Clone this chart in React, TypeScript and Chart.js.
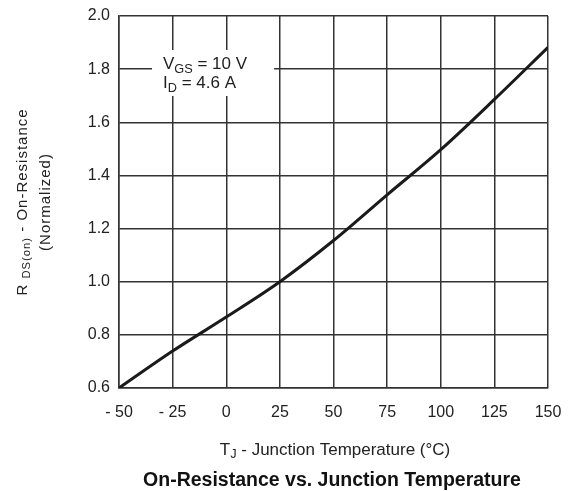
import React, { useEffect, useRef } from "react";
import { Chart, registerables } from "chart.js";

Chart.register(...registerables);

// ---- data ----
const temperatures = [-50, -25, 0, 25, 50, 75, 100, 125, 150];
const rdsOnNormalized = [0.6, 0.739, 0.867, 1.0, 1.155, 1.327, 1.497, 1.686, 1.882];
const xTickValues = [-50, -25, 0, 25, 50, 75, 100, 125, 150];
const yTickValues = [0.6, 0.8, 1.0, 1.2, 1.4, 1.6, 1.8, 2.0];

const titleText = "On-Resistance vs. Junction Temperature";
const annotationLine1 = [{ t: "V" }, { t: "GS", sub: true }, { t: " = 10 V" }];
const annotationLine2 = [{ t: "I" }, { t: "D", sub: true }, { t: " = 4.6 A" }];
const xTitleParts = [{ t: "T" }, { t: "J", sub: true }, { t: " - Junction Temperature (°C)" }];
const yTitleLine1 = [{ t: "R " }, { t: "DS(on)", sub: true }, { t: " - On-Resistance" }];
const yTitleLine2 = [{ t: "(Normalized)" }];

const FONT = '"Liberation Sans", Arial, Helvetica, sans-serif';
const TEXT_COLOR = "#222";
const GRID_COLOR = "#333";

type Part = { t: string; sub?: boolean };

function drawRich(
  ctx: CanvasRenderingContext2D,
  parts: Part[],
  x: number,
  y: number,
  size: number,
  align: "left" | "center",
  weight = "normal",
  spacing = 0
) {
  const f = (s: number) => `${weight} ${s}px ${FONT}`;
  const subSize = size * 0.75;
  const c: any = ctx;
  c.letterSpacing = spacing + "px";
  let total = 0;
  const widths = parts.map((p) => {
    ctx.font = f(p.sub ? subSize : size);
    const w = ctx.measureText(p.t).width;
    total += w;
    return w;
  });
  let cx = align === "center" ? x - total / 2 : x;
  ctx.textAlign = "left";
  ctx.textBaseline = "alphabetic";
  parts.forEach((p, i) => {
    ctx.font = f(p.sub ? subSize : size);
    ctx.fillText(p.t, cx, p.sub ? y + size * 0.22 : y);
    cx += widths[i];
  });
  c.letterSpacing = "0px";
}

const textPlugin = {
  id: "customTexts",
  afterDraw(chart: any) {
    const { ctx, chartArea, scales } = chart;
    const xs = scales.x;
    const ys = scales.y;
    ctx.save();

    // annotation box (white, covering grid)
    const bx0 = xs.getPixelForValue(-34.6);
    const bx1 = xs.getPixelForValue(22.3);
    const by0 = ys.getPixelForValue(1.872);
    const by1 = ys.getPixelForValue(1.699);
    ctx.fillStyle = "#fff";
    ctx.fillRect(bx0, by0, bx1 - bx0, by1 - by0);
    ctx.fillStyle = TEXT_COLOR;
    const tx = xs.getPixelForValue(-29.5);
    drawRich(ctx, annotationLine1, tx, by0 + 19, 17, "left");
    drawRich(ctx, annotationLine2, tx, by0 + 38, 17, "left");

    const cxPlot = (chartArea.left + chartArea.right) / 2;
    // x title
    drawRich(ctx, xTitleParts, cxPlot + 1.5, 454.5, 17, "center");
    // chart title
    ctx.fillStyle = "#111";
    drawRich(ctx, [{ t: titleText }], cxPlot - 1.5, 486, 19.5, "center", "bold");

    // y title (rotated)
    ctx.fillStyle = TEXT_COLOR;
    const cyPlot = (chartArea.top + chartArea.bottom) / 2;
    ctx.save();
    ctx.translate(27, cyPlot);
    ctx.rotate(-Math.PI / 2);
    drawRich(ctx, yTitleLine1, 0, 0, 15, "center", "normal", 1);
    ctx.restore();
    ctx.save();
    ctx.translate(50, cyPlot);
    ctx.rotate(-Math.PI / 2);
    drawRich(ctx, yTitleLine2, 0, 0, 15, "center", "normal", 1);
    ctx.restore();

    ctx.restore();
  },
};

export default function App() {
  const canvasRef = useRef<HTMLCanvasElement | null>(null);

  useEffect(() => {
    const canvas = canvasRef.current;
    if (!canvas) return;
    const chart = new Chart(canvas, {
      type: "line",
      data: {
        datasets: [
          {
            data: temperatures.map((t, i) => ({ x: t, y: rdsOnNormalized[i] })),
            borderColor: "#1a1a1a",
            borderWidth: 3,
            pointRadius: 0,
            fill: false,
            cubicInterpolationMode: "monotone",
          },
        ],
      },
      options: {
        animation: false,
        responsive: false,
        devicePixelRatio: 1,
        layout: { padding: { left: 69, right: 23, top: 16, bottom: 63 } },
        plugins: {
          legend: { display: false },
          tooltip: { enabled: false },
          title: { display: false },
        },
        scales: {
          x: {
            type: "linear",
            min: -50,
            max: 150,
            afterBuildTicks: (scale: any) => {
              scale.ticks = xTickValues.map((v) => ({ value: v }));
            },
            afterFit: (scale: any) => {
              scale.height = 40;
              scale.paddingLeft = 0;
              scale.paddingRight = 0;
            },
            grid: { color: GRID_COLOR, lineWidth: 1.5, drawTicks: false },
            border: { display: true, color: GRID_COLOR, width: 1.5 },
            ticks: {
              padding: 15,
              color: TEXT_COLOR,
              font: { family: FONT, size: 16 },
              maxRotation: 0,
              callback: (v: any) => (v < 0 ? "- " + Math.abs(v) : String(v)),
            },
          },
          y: {
            type: "linear",
            min: 0.6,
            max: 2.0,
            afterBuildTicks: (scale: any) => {
              scale.ticks = yTickValues.map((v) => ({ value: v }));
            },
            afterFit: (scale: any) => {
              scale.width = 50;
              scale.paddingTop = 0;
              scale.paddingBottom = 0;
            },
            grid: { color: GRID_COLOR, lineWidth: 1.5, drawTicks: false },
            border: { display: true, color: GRID_COLOR, width: 1.5 },
            ticks: {
              padding: 9,
              color: TEXT_COLOR,
              font: { family: FONT, size: 16 },
              callback: (v: any) => Number(v).toFixed(1),
            },
          },
        },
      },
      plugins: [textPlugin],
    } as any);
    return () => chart.destroy();
  }, []);

  return (
    <div style={{ position: "fixed", left: 0, top: 0, width: 571, height: 491, background: "#fff" }}>
      <canvas ref={canvasRef} width={571} height={491} style={{ width: 571, height: 491 }} />
    </div>
  );
}
